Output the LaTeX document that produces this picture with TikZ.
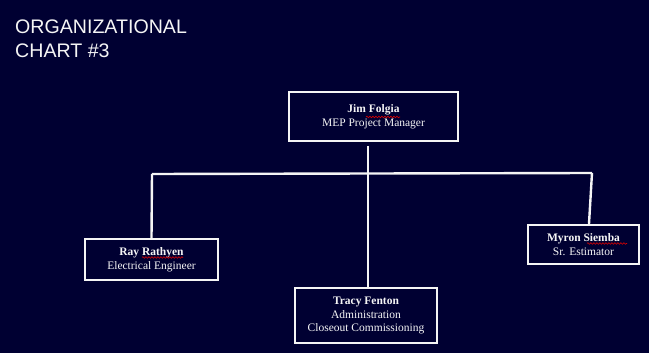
\documentclass[tikz,border=0pt]{standalone}
\usepackage{fontspec}
\setmainfont{Liberation Serif}
\newfontfamily\titlefont{Liberation Sans}
\usetikzlibrary{calc,decorations.pathmorphing}
\definecolor{navy}{RGB}{0,0,50}
\definecolor{ink}{RGB}{245,245,245}
\tikzset{
  person/.style={draw=ink, line width=2.4pt, fill=navy, text=ink, align=center,
    inner sep=0pt, font=\fontsize{11.5}{13.6}\selectfont},
  link/.style={draw=ink, line width=2.4pt},
  squiggle/.style={draw=red!85!black, line width=0.6pt,
    decorate, decoration={snake, amplitude=0.8pt, segment length=3pt}}
}
\begin{document}
\begin{tikzpicture}[x=1pt,y=-1pt]
\fill[navy] (0,0) rectangle (649,353);
\useasboundingbox (0,0) rectangle (649,353);

\node[anchor=north west, inner sep=0pt, align=left, text=ink,
  font=\titlefont\fontsize{19.6}{24}\selectfont] (title) at (15,19.5)
  {ORGANIZATIONAL\\CHART \#3};

\node[person, minimum width=169pt, minimum height=49pt] (jim) at (373.5,116.5)
  {\textbf{Jim Folgia}\\MEP Project Manager};
\node[person, minimum width=133pt, minimum height=41pt] (ray) at (151.5,259.5)
  {\textbf{Ray Rathyen}\\Electrical Engineer};
\node[person, minimum width=111pt, minimum height=39pt] (myron) at (583.5,244.5)
  {\textbf{Myron Siemba}\\Sr. Estimator};
\node[person, minimum width=142pt, minimum height=55pt] (tracy) at (366,315.5)
  {\textbf{Tracy Fenton}\\Administration\\Closeout Commissioning};

\coordinate (jb) at (368,146);
\coordinate (hl) at (152,174);
\coordinate (hr) at (592,173);

\draw[link] (jb) -- (jb |- tracy.north);
\draw[link] (hl) -- (hr);
\draw[link] (hl) -- (ray.north);
\draw[link] (hr) -- ($(myron.north)+(5.5,0)$);

\draw[squiggle] (366,117) -- (400,117);
\draw[squiggle] (142,257.5) -- (183,257.5);
\draw[squiggle] (587,243.5) -- (627,243.5);
\end{tikzpicture}
\end{document}
